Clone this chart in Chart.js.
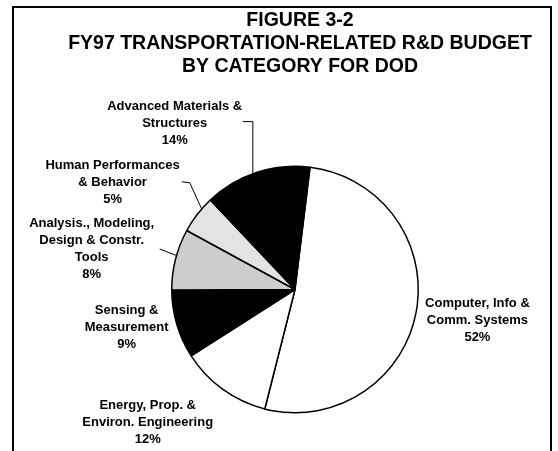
<!DOCTYPE html>
<html>
<head>
<meta charset="utf-8">
<script src="https://cdn.jsdelivr.net/npm/chart.js@4/dist/chart.umd.min.js"></script>
<style>
  html, body { margin: 0; padding: 0; background: #fff; }
  #wrap { position: relative; width: 558px; height: 451px; overflow: hidden; }
  #frame { position: absolute; left: 12px; top: 6px; width: 536px; height: 470px;
           border: 2px solid #000; border-bottom: none; pointer-events: none; }
  canvas { position: absolute; left: 0; top: 0; }
</style>
</head>
<body>
<div id="wrap">
  <canvas id="c" width="558" height="451"></canvas>
  <div id="frame"></div>
</div>
<script>
// ---- data ----
const titleLines = ['FIGURE 3-2', 'FY97 TRANSPORTATION-RELATED R&D BUDGET', 'BY CATEGORY FOR DOD'];
const categories = [
  ['Computer, Info &', 'Comm. Systems'],
  ['Energy, Prop. &', 'Environ. Engineering'],
  ['Sensing &', 'Measurement'],
  ['Analysis., Modeling,', 'Design & Constr.', 'Tools'],
  ['Human Performances', '& Behavior'],
  ['Advanced Materials &', 'Structures']
];
const shares = [52, 12, 9, 8, 5, 14];

// ---- styling / layout (not data) ----
const fills = ['#ffffff', '#ffffff', '#000000', '#cdcdcd', '#e3e3e3', '#000000'];
// label anchor relative to pie center, in units of radius
const labelPlace = [
  {dx: 1.48, dy: 0.25},
  {dx: -1.195, dy: 1.08},
  {dx: -1.366, dy: 0.305},
  {dx: -1.65, dy: -0.33},
  {dx: -1.48, dy: -0.87},
  {dx: -0.976, dy: -1.35}
];
// leader lines: angle on rim (deg clockwise from top), then points (radius units)
const leaders = [
  {angle: 340, pts: [{vertFromRim: true, dy: -1.362}, {dx: -0.423, dy: -1.362}]},
  {angle: 310.8, pts: [{dx: -0.854, dy: -0.866}, {dx: -0.919, dy: -0.874}]},
  {angle: 286, pts: [{dx: -1.098, dy: -0.329}]}
];

const FONT = "'Liberation Sans', Arial, sans-serif";

const titlePlugin = {
  id: 'figTitle',
  afterDraw(chart) {
    const ctx = chart.ctx;
    ctx.save();
    ctx.fillStyle = '#000';
    ctx.font = 'bold 19.5px ' + FONT;
    ctx.textAlign = 'center';
    ctx.textBaseline = 'middle';
    titleLines.forEach((s, k) => ctx.fillText(s, 300, 21 + k * 23));
    ctx.restore();
  }
};

const labelPlugin = {
  id: 'sliceLabels',
  afterDatasetsDraw(chart) {
    const meta = chart.getDatasetMeta(0);
    const a0 = meta.data[0];
    const cx = a0.x, cy = a0.y, r = a0.outerRadius;
    const ctx = chart.ctx;
    ctx.save();
    ctx.strokeStyle = '#000';
    ctx.lineWidth = 1;
    leaders.forEach(L => {
      const t = L.angle * Math.PI / 180;
      const rx = cx + r * Math.sin(t), ry = cy - r * Math.cos(t);
      ctx.beginPath();
      ctx.moveTo(rx, ry);
      L.pts.forEach(p => {
        if (p.vertFromRim) ctx.lineTo(rx, cy + p.dy * r);
        else ctx.lineTo(cx + p.dx * r, cy + p.dy * r);
      });
      ctx.stroke();
    });
    ctx.fillStyle = '#000';
    ctx.font = 'bold 13px ' + FONT;
    ctx.textAlign = 'center';
    ctx.textBaseline = 'middle';
    const lh = 17;
    categories.forEach((lines, i) => {
      const all = lines.concat([shares[i] + '%']);
      const x = cx + labelPlace[i].dx * r;
      const y = cy + labelPlace[i].dy * r;
      const y0 = y - (all.length - 1) * lh / 2;
      all.forEach((s, k) => ctx.fillText(s, x, y0 + k * lh));
    });
    ctx.restore();
  }
};

new Chart(document.getElementById('c'), {
  type: 'pie',
  data: {
    labels: categories,
    datasets: [{
      data: shares,
      backgroundColor: fills,
      borderColor: '#000',
      borderWidth: 1.5
    }]
  },
  options: {
    responsive: false,
    animation: false,
    rotation: 7,
    layout: { padding: { left: 145, right: 113, top: 165.5, bottom: 37.5 } },
    plugins: {
      legend: { display: false },
      tooltip: { enabled: false },
      title: { display: false }
    }
  },
  plugins: [labelPlugin, titlePlugin]
});
</script>
</body>
</html>
